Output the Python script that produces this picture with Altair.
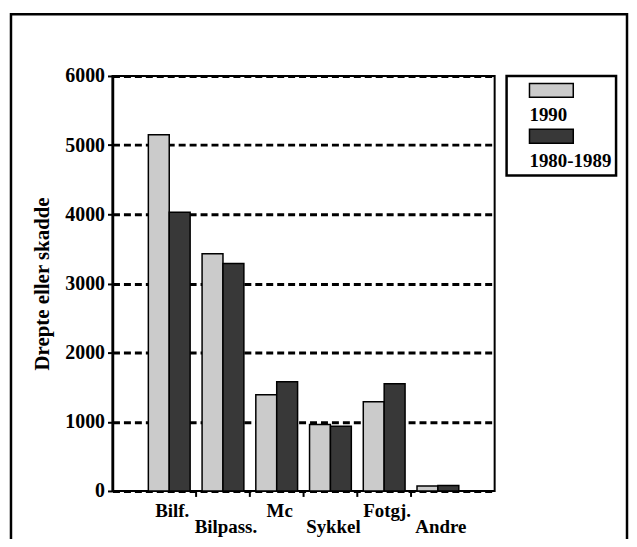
import altair as alt
import pandas as pd

categories = ["Bilf.", "Bilpass.", "Mc", "Sykkel", "Fotgj.", "Andre"]
series = ["1990", "1980-1989"]
values_1990 = [5150, 3430, 1390, 960, 1290, 70]
values_8089 = [4030, 3290, 1580, 935, 1550, 80]
label_row = [0, 1, 0, 1, 0, 1]
y_ticks = [0, 1000, 2000, 3000, 4000, 5000, 6000]
colors = ["#cbcbcb", "#383838"]

rows = []
for i, c in enumerate(categories):
    rows.append({"cat": c, "series": series[0], "value": values_1990[i]})
    rows.append({"cat": c, "series": series[1], "value": values_8089[i]})
df = pd.DataFrame(rows)
lab = pd.DataFrame({"cat": categories, "row": label_row})
bounds = pd.DataFrame({"cat": categories[1:]})

W, H = 384, 417
FONT = "Liberation Serif"

xscale = alt.Scale(domain=categories, paddingInner=0, paddingOuter=0.556)

frame = alt.Chart(pd.DataFrame({"a": [0]})).mark_rect(
    fill="transparent", stroke="black", strokeWidth=2.5
).encode(
    x=alt.value(-102), x2=alt.value(517), y=alt.value(-62), y2=alt.value(480)
)

bars = alt.Chart(df).mark_bar(stroke="black", strokeWidth=1.5).encode(
    x=alt.X("cat:N", sort=categories, scale=xscale,
            axis=alt.Axis(labels=False, ticks=False, title=None, domainWidth=2.5,
                          domainColor="black", grid=False)),
    xOffset=alt.XOffset("series:N", sort=series,
                        scale=alt.Scale(paddingOuter=0.286, paddingInner=0)),
    y=alt.Y("value:Q", scale=alt.Scale(domain=[0, 6000]),
            axis=alt.Axis(values=y_ticks, format="d", title="Drepte eller skadde", grid=True,
                          gridDash=[7, 4], gridWidth=3, gridColor="black", gridOpacity=1,
                          labelFont=FONT, labelFontSize=20, labelFontWeight="bold",
                          labelColor="black", tickColor="black", tickSize=5, tickWidth=2,
                          domainColor="black", domainWidth=2.5, labelPadding=3,
                          titleFont=FONT, titleFontSize=21, titleFontWeight="bold",
                          titleColor="black", titlePadding=12)),
    fill=alt.Fill("series:N", sort=series, scale=alt.Scale(domain=series, range=colors),
                  legend=alt.Legend(title="\u00a0", titleFontSize=12, titlePadding=5,
                                    titleAnchor="start",
                                    orient="none", legendX=396, legendY=0,
                                    direction="vertical", strokeColor="black",
                                    fillColor="white", padding=4,
                                    symbolType="M9.5,-23H53.5V-9H9.5Z",
                                    symbolSize=4, symbolStrokeColor="black",
                                    symbolStrokeWidth=1.5, symbolOpacity=1,
                                    labelOffset=0, labelFont=FONT, labelFontSize=19,
                                    labelFontWeight="bold", labelColor="black",
                                    rowPadding=0, labelBaseline="top")),
)

ticks = alt.Chart(bounds).mark_rule(color="black", strokeWidth=2).encode(
    x=alt.X("cat:N", sort=categories, scale=xscale, bandPosition=0, axis=None),
    y=alt.value(H), y2=alt.value(H + 6)
)

lab_top = alt.Chart(lab).transform_filter("datum.row == 0").mark_text(
    font=FONT, fontSize=19, fontWeight="bold", baseline="alphabetic", dx=3, color="black"
).encode(
    x=alt.X("cat:N", sort=categories, scale=xscale, axis=None),
    y=alt.value(443), text="cat:N"
)
lab_bot = alt.Chart(lab).transform_filter("datum.row == 1").mark_text(
    font=FONT, fontSize=19, fontWeight="bold", baseline="alphabetic", dx=3, color="black"
).encode(
    x=alt.X("cat:N", sort=categories, scale=xscale, axis=None),
    y=alt.value(459), text="cat:N"
)

chart = alt.layer(frame, bars, ticks, lab_top, lab_bot).properties(
    width=W, height=H,
    autosize=alt.AutoSizeParams(type="none"),
    padding={"left": 105, "top": 67, "right": 135, "bottom": 47},
).configure_view(stroke="black", strokeWidth=2).configure_legend(strokeWidth=2.5)

chart.save("out.html", embed_options={"renderer": "svg", "actions": False})
